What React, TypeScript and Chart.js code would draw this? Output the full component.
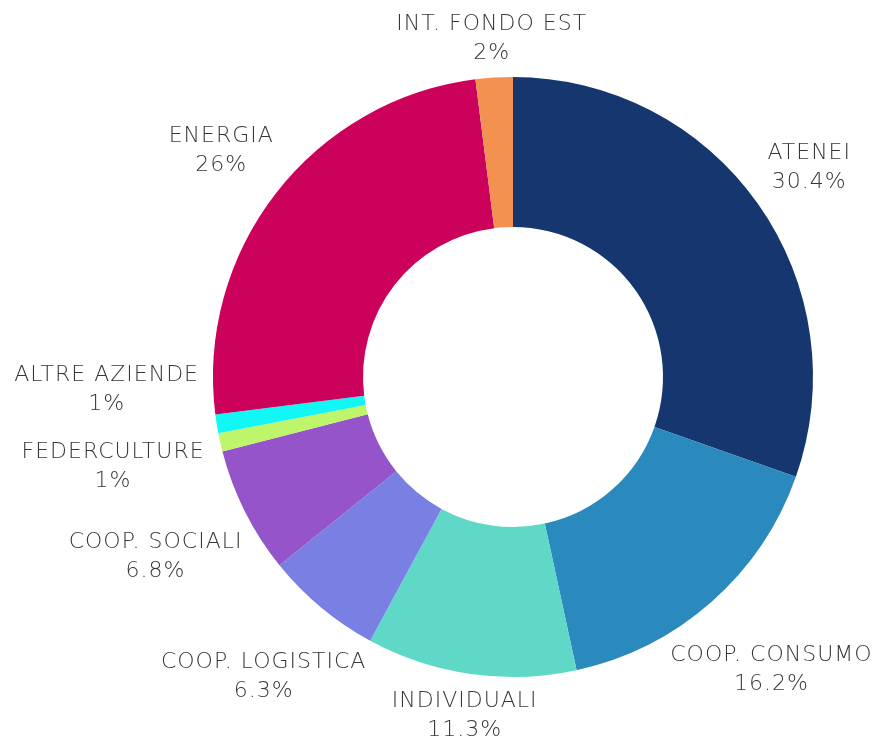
import React, { useEffect, useRef } from "react";
import { Chart, registerables } from "chart.js";

Chart.register(...registerables);

const categories = [
  "ATENEI",
  "COOP. CONSUMO",
  "INDIVIDUALI",
  "COOP. LOGISTICA",
  "COOP. SOCIALI",
  "FEDERCULTURE",
  "ALTRE AZIENDE",
  "ENERGIA",
  "INT. FONDO EST",
];

// sector sizes as drawn (percent of the circle)
const values = [30.4, 16.2, 11.3, 6.3, 6.8, 1, 1, 25, 2];

// percentage labels as printed
const percentLabels = ["30.4%", "16.2%", "11.3%", "6.3%", "6.8%", "1%", "1%", "26%", "2%"];

const colors = [
  "#15366F",
  "#2A8ABD",
  "#60D8C7",
  "#7A7FE3",
  "#9654CB",
  "#BFF56B",
  "#12F6F6",
  "#CC015C",
  "#F39151",
];

const FONT_SIZE = 22;
const LINE_H = 29;
const FONT = `300 ${FONT_SIZE}px "DejaVu Sans"`;

const outsideLabels = {
  id: "outsideLabels",
  afterDatasetsDraw(chart: any) {
    const ctx: CanvasRenderingContext2D = chart.ctx;
    const meta = chart.getDatasetMeta(0);
    ctx.save();
    ctx.font = FONT;
    (ctx as any).letterSpacing = "1px";
    ctx.fillStyle = "#363636";
    ctx.textAlign = "center";
    ctx.textBaseline = "middle";

    const items: any[] = meta.data.map((arc: any, i: number) => {
      const p = arc.getProps(["x", "y", "startAngle", "endAngle", "outerRadius"], true);
      const mid = (p.startAngle + p.endAngle) / 2;
      const cos = Math.cos(mid);
      const sin = Math.sin(mid);
      const w = Math.max(
        ctx.measureText(categories[i]).width,
        ctx.measureText(percentLabels[i]).width
      );
      const dist = p.outerRadius * 1.113 + 0.85 * Math.abs(cos) * (w / 2);
      return { i, w, x: p.x + cos * dist, y: p.y + sin * dist };
    });

    // resolve overlaps: process bottom to top, push colliding labels upward
    const minGap = LINE_H * 2 + 19;
    const sorted = [...items].sort((a, b) => b.y - a.y);
    const placed: any[] = [];
    sorted.forEach((it) => {
      let moved = true;
      while (moved) {
        moved = false;
        for (const o of placed) {
          const xOverlap = Math.abs(it.x - o.x) < (it.w + o.w) / 2;
          if (xOverlap && Math.abs(it.y - o.y) < minGap) {
            it.y = o.y - minGap;
            moved = true;
          }
        }
      }
      placed.push(it);
    });

    items.forEach((it) => {
      ctx.fillText(categories[it.i], it.x, it.y - LINE_H / 2);
      ctx.fillText(percentLabels[it.i], it.x, it.y + LINE_H / 2);
    });
    ctx.restore();
  },
};

export default function App() {
  const ref = useRef<HTMLCanvasElement>(null);
  useEffect(() => {
    if (!ref.current) return;
    const chart = new Chart(ref.current, {
      type: "doughnut",
      data: {
        labels: categories,
        datasets: [
          {
            data: values,
            backgroundColor: colors,
            borderWidth: 0,
          },
        ],
      },
      options: {
        responsive: false,
        animation: false,
        cutout: "50%",
        layout: { padding: { left: 213, right: 71, top: 77, bottom: 63 } },
        plugins: {
          legend: { display: false },
          tooltip: { enabled: false },
        },
      },
      plugins: [outsideLabels],
    });
    return () => chart.destroy();
  }, []);
  return (
    <div style={{ position: "absolute", left: 0, top: 0, width: 884, height: 740, background: "#fff" }}>
      <canvas ref={ref} width={884} height={740} style={{ display: "block" }} />
    </div>
  );
}
